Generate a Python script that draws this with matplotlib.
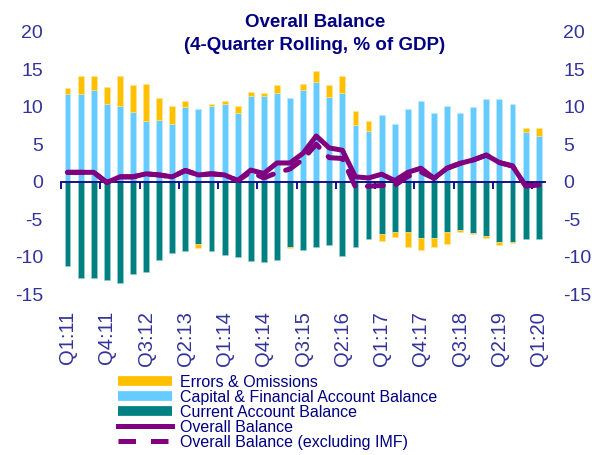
import numpy as np
import matplotlib
matplotlib.use("Agg")
import matplotlib.pyplot as plt
from matplotlib.lines import Line2D

plt.rcParams['font.family'] = ['Liberation Sans', 'DejaVu Sans']
plt.rcParams['axes.unicode_minus'] = False

#----------------------------------------------------------#
# data (% of GDP, 4-quarter rolling), Q1:11 .. Q1:20
#----------------------------------------------------------#
years = list(range(11, 21))
quarters = ["Q{}:{}".format(q, y) for y in years for q in range(1, 5)][:37]

cap_fin = [11.65, 11.65, 12.2, 10.35, 10.1, 9.35, 8.05, 8.25, 7.65, 9.9,
           9.7, 10.1, 10.4, 9.1, 11.4, 11.4, 11.8, 11.15, 12.2, 13.25,
           11.35, 11.8, 7.55, 6.75, 8.9, 7.65, 9.7, 10.75, 9.1, 10.1,
           9.1, 9.9, 11.0, 11.0, 10.35, 6.6, 6.15]
current = [-11.2, -12.9, -12.9, -13.1, -13.5, -12.3, -12.1, -10.4, -9.5, -9.3,
           -8.3, -9.3, -9.8, -10.0, -10.6, -10.75, -10.4, -8.65, -9.15, -8.7,
           -8.5, -9.9, -8.7, -7.7, -7.0, -6.67, -6.67, -7.45, -7.45, -6.67,
           -6.45, -6.8, -7.25, -8.1, -8.0, -7.7, -7.7]
errors = [0.8, 2.45, 1.9, 2.25, 4.0, 3.55, 4.95, 2.9, 2.45, 0.85,
          -0.6, 0.25, 0.35, 1.0, 0.6, 0.4, 1.05, -0.25, 0.8, 1.5,
          1.5, 2.3, 1.9, 1.3, -0.9, -0.73, -2.0, -1.65, -1.2, -1.7,
          -0.2, -0.2, -0.2, -0.4, -0.2, 0.6, 1.05]
overall = [1.25, 1.25, 1.25, -0.1, 0.65, 0.65, 1.05, 0.9, 0.65, 1.5,
           0.9, 1.05, 0.9, 0.15, 1.55, 1.1, 2.5, 2.5, 3.8, 6.1,
           4.5, 4.2, 0.65, 0.5, 1.0, 0.15, 1.25, 1.8, 0.45, 1.8,
           2.45, 2.9, 3.55, 2.55, 2.1, -0.55, -0.45]
overall_ex_imf = [1.25, 1.25, 1.25, -0.1, 0.65, 0.65, 1.05, 0.9, 0.65, 1.5,
                  0.9, 1.05, 0.9, 0.15, 1.3, 0.5, 1.2, 1.7, 3.0, 5.0,
                  3.2, 3.1, -0.7, -0.6, -0.5, -0.5, 0.7, 1.3, 0.45, 1.8,
                  2.45, 2.9, 3.55, 2.55, 2.1, -0.55, -0.45]

yellow = '#FFC000'
lblue = '#66CCFF'
teal = '#008080'
purple = '#800080'
navy = '#333399'

x = np.arange(len(quarters))
cap_fin = np.array(cap_fin)
current = np.array(current)
errors = np.array(errors)
# errors stack on top of the positive or the negative side
eo_bottom = np.where(errors >= 0, cap_fin, current)

fig = plt.figure(figsize=(5.92, 4.55), dpi=100)
ax = fig.add_axes([0.103, 0.3534, 0.818, 0.5769])

w = 0.45
ax.bar(x, cap_fin, w, color=lblue, edgecolor='#BFE9FF', linewidth=0.4)
ax.bar(x, current, w, color=teal, edgecolor='#9ACFCF', linewidth=0.4)
ax.bar(x, errors, w, bottom=eo_bottom, color=yellow, edgecolor='#FFE599', linewidth=0.4)
ax.plot(x, overall, color=purple, lw=3.6, solid_capstyle='round', zorder=4)
ax.plot(x, overall_ex_imf, color=purple, lw=3.6, dashes=(3.2, 2.6),
        dash_capstyle='round', zorder=5)

ax.set_xlim(-0.5, len(x) - 0.5)
ax.set_ylim(-15, 20)
ax.set_yticks(np.arange(-15, 21, 5))

for s in ['left', 'right', 'top']:
    ax.spines[s].set_visible(False)
ax.spines['bottom'].set_position(('data', 0))
ax.spines['bottom'].set_color('#000080')
ax.spines['bottom'].set_linewidth(1.3)
ax.set_xticks(x[::3])
ax.tick_params(axis='x', which='major', length=0, labelbottom=False)
ax.set_xticks(np.arange(-0.5, len(x), 3), minor=True)
ax.tick_params(axis='x', which='minor', length=5, width=1.3, color='#000080', direction='out')
ax.tick_params(axis='y', length=0, labelsize=14, labelcolor=navy, pad=13)

ax2 = ax.secondary_yaxis('right')
ax2.spines['right'].set_visible(False)
ax2.set_yticks(np.arange(-15, 21, 5))
ax2.tick_params(axis='y', length=0, labelsize=14, labelcolor=navy, pad=13)

axb = ax.secondary_xaxis('bottom')
axb.spines['bottom'].set_visible(False)
axb.set_xticks(x[::3])
axb.set_xticklabels(quarters[::3], rotation=90)
axb.tick_params(axis='x', length=0, labelsize=14.5, labelcolor=navy, pad=12)

fig.text(0.532, 0.951, 'Overall Balance', ha='center', va='center',
         fontsize=13.5, fontweight='bold', color='#000080')
fig.text(0.532, 0.901, '(4-Quarter Rolling, % of GDP)', ha='center', va='center',
         fontsize=13.5, fontweight='bold', color='#000080')

handles = [Line2D([], [], color=yellow, lw=7, solid_capstyle='butt'),
           Line2D([], [], color=lblue, lw=7, solid_capstyle='butt'),
           Line2D([], [], color=teal, lw=7, solid_capstyle='butt'),
           Line2D([], [], color=purple, lw=3.6),
           Line2D([], [], color=purple, lw=3.6, dashes=(3.5, 3.0))]
labels = ['Errors & Omissions', 'Capital & Financial Account Balance',
          'Current Account Balance', 'Overall Balance',
          'Overall Balance (excluding IMF)']
leg = fig.legend(handles, labels, loc='upper left', bbox_to_anchor=(0.199, 0.176),
                 frameon=False, fontsize=11.5, labelspacing=0.0, handlelength=3.4,
                 handletextpad=0.5, borderpad=0, borderaxespad=0)
for t in leg.get_texts():
    t.set_color('#000080')

fig.savefig('out.png', dpi=100)
